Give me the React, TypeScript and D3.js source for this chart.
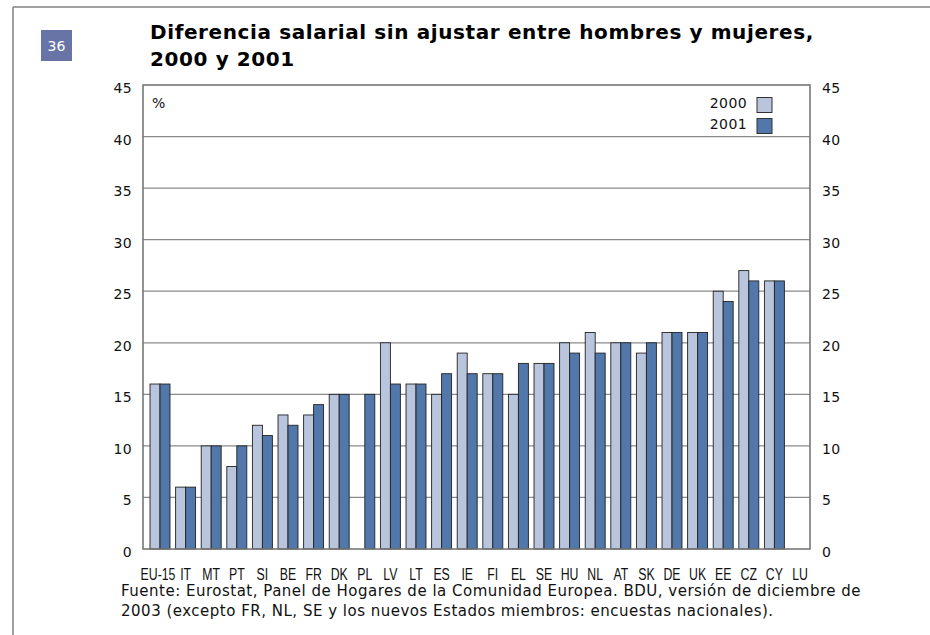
import { scaleBand, scaleLinear, range } from 'd3'

const countries = ['EU-15', 'IT', 'MT', 'PT', 'SI', 'BE', 'FR', 'DK', 'PL', 'LV', 'LT', 'ES', 'IE', 'FI', 'EL', 'SE', 'HU', 'NL', 'AT', 'SK', 'DE', 'UK', 'EE', 'CZ', 'CY', 'LU'];
const values2000 = [16, 6, 10, 8, 12, 13, 13, 15, null, 20, 16, 15, 19, 17, 15, 18, 20, 21, 20, 19, 21, 21, 25, 27, 26, null];
const values2001 = [16, 6, 10, 10, 11, 12, 14, 15, 15, 16, 16, 17, 17, 17, 18, 18, 19, 19, 20, 20, 21, 21, 24, 26, 26, null];
const years = ['2000', '2001'];
const yTicks = range(0, 50, 5);

const colors: Record<string, string> = { '2000': '#b9c4dd', '2001': '#5277aa' };

function App() {
  const width = 930;
  const height = 635;

  const plotLeft = 143;
  const plotRight = 810;
  const plotTop = 85;
  const plotBottom = 549;

  const y = scaleLinear().domain([0, 45]).range([plotBottom, plotTop]);
  const x = scaleBand<string>()
    .domain(countries)
    .range([147.2, 812.8])
    .paddingInner(0.22)
    .paddingOuter(0.11);
  const xs = scaleBand<string>().domain(years).range([0, x.bandwidth()]);

  const series = [values2000, values2001];

  return (
    <div>
      <svg width={width} height={height} style={{ position: 'absolute', left: 0, top: 0 }}>
        {/* outer frame */}
        <line x1={13} y1={7} x2={930} y2={7} stroke="#808080" strokeWidth={1.5} />
        <line x1={13} y1={7} x2={13} y2={635} stroke="#808080" strokeWidth={1.5} />

        {/* badge */}
        <rect x={41} y={30} width={31} height={31} fill="#6874a5" />
        <text x={56.5} y={51} textAnchor="middle" fill="#fff" fontFamily="DejaVu Sans" fontSize={14}>36</text>

        {/* title */}
        <text fontFamily="DejaVu Sans" fontWeight="bold" fontSize={20} letterSpacing={0.6} fill="#000">
          <tspan x={150} y={39}>Diferencia salarial sin ajustar entre hombres y mujeres,</tspan>
          <tspan x={150} y={66}>2000 y 2001</tspan>
        </text>

        {/* gridlines */}
        {yTicks.filter(t => t > 0 && t < 45).map(t => (
          <line key={t} x1={plotLeft} x2={plotRight} y1={y(t)} y2={y(t)} stroke="#8a8a8a" strokeWidth={1.3} />
        ))}

        {/* tick labels */}
        {yTicks.map(t => (
          <g key={t} fontFamily="DejaVu Sans" fontSize={14} letterSpacing={0.4} fill="#111">
            <text x={132} y={y(t) + 8} textAnchor="end">{t}</text>
            <text x={822} y={y(t) + 8}>{t}</text>
          </g>
        ))}

        {/* bars */}
        {countries.map((c, i) => (
          <g key={c} transform={`translate(${x(c)},0)`}>
            {years.map((yr, j) => {
              const v = series[j][i];
              if (v == null) return null;
              return (
                <rect
                  key={yr}
                  x={xs(yr)}
                  y={y(v)}
                  width={xs.bandwidth()}
                  height={y(0) - y(v)}
                  fill={colors[yr]}
                  stroke="#222"
                  strokeWidth={0.9}
                />
              );
            })}
          </g>
        ))}

        {/* plot frame */}
        <rect x={plotLeft} y={plotTop} width={plotRight - plotLeft} height={plotBottom - plotTop} fill="none" stroke="#777" strokeWidth={1.6} />

        <text x={152} y={108} fontFamily="DejaVu Sans" fontSize={14} fill="#111">%</text>

        {/* legend */}
        {years.map((yr, j) => (
          <g key={yr}>
            <text x={747} y={108 + j * 21} textAnchor="end" fontFamily="DejaVu Sans" fontSize={14} letterSpacing={0.4} fill="#111">{yr}</text>
            <rect x={757} y={97.5 + j * 21} width={15} height={15} fill={colors[yr]} stroke="#333" strokeWidth={1} />
          </g>
        ))}

        {/* x labels (condensed) */}
        {countries.map(c => (
          <g key={c} transform={`translate(${(x(c) ?? 0) + x.bandwidth() / 2 - (c === 'EU-15' ? 2 : 0)},580) scale(0.77,1)`}>
            <text textAnchor="middle" fontFamily="Liberation Sans" fontSize={16} fill="#111">{c}</text>
          </g>
        ))}

        {/* source */}
        <text fontFamily="DejaVu Sans" fontSize={15} letterSpacing={0.5} fill="#111">
          <tspan x={121} y={596}>Fuente: Eurostat, Panel de Hogares de la Comunidad Europea. BDU, versión de diciembre de</tspan>
          <tspan x={121} y={616}>2003 (excepto FR, NL, SE y los nuevos Estados miembros: encuestas nacionales).</tspan>
        </text>
      </svg>
    </div>
  );
}

export default App;
